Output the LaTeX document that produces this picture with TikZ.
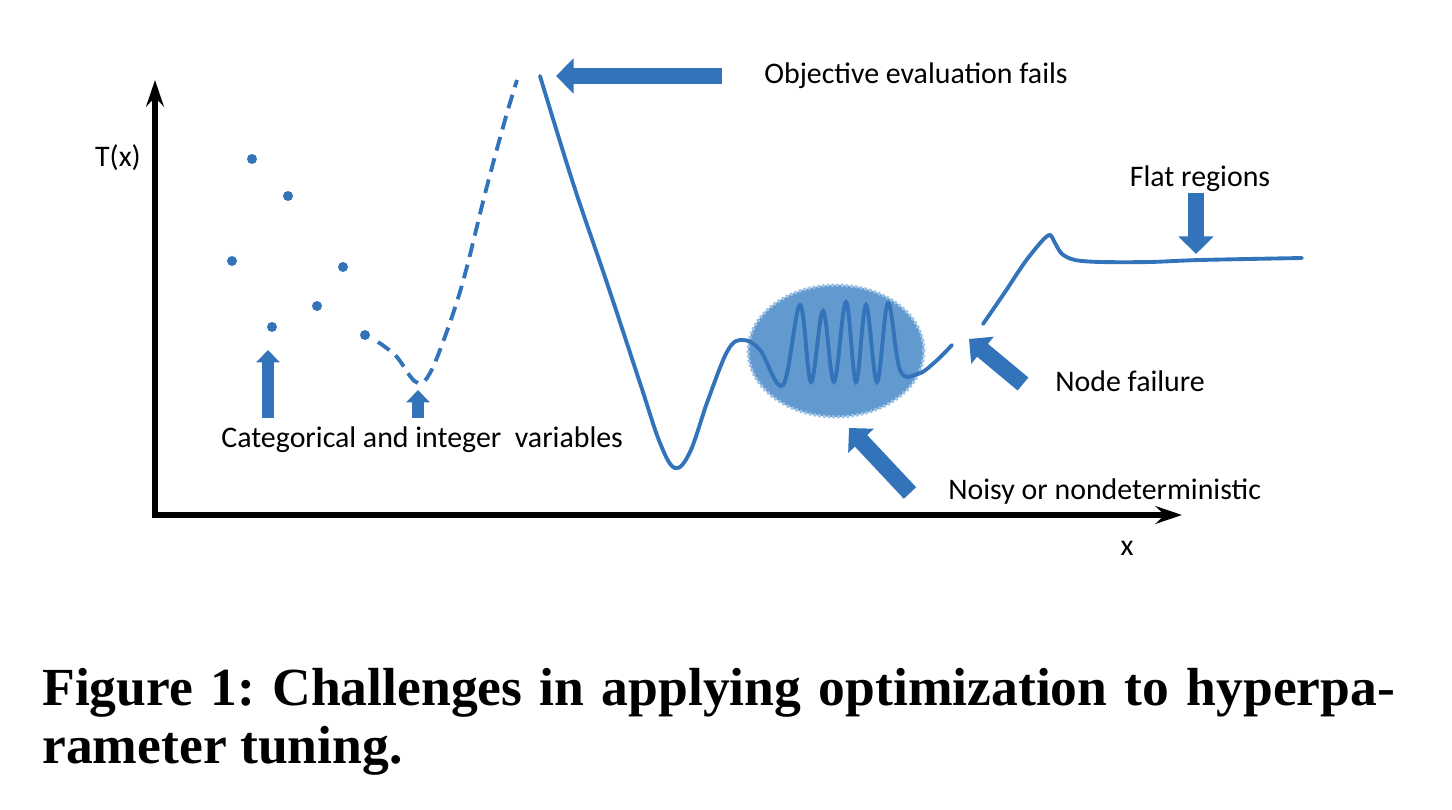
\documentclass[tikz,border=0pt]{standalone}
\usepackage{fontspec}
\setmainfont{Carlito}
\newfontfamily\capfont{Liberation Serif}
\usepackage{tikz}
\usetikzlibrary{arrows.meta,shapes.geometric,positioning}
\definecolor{curveblue}{HTML}{3373BA}
\definecolor{blobblue}{HTML}{6299CE}
\definecolor{rimblue}{HTML}{9DC3E6}
\frenchspacing

\begin{document}
\begin{tikzpicture}[
    x=0.02cm, y=-0.02cm,
    axisline/.style={line width=3pt, -{Stealth[length=15pt, width=10pt, inset=5pt]}},
    curve/.style={draw=curveblue, line width=2.2pt, line cap=round},
    gapcurve/.style={curve, dash pattern=on 8pt off 4.5pt, line cap=butt},
    sample/.style={circle, fill=curveblue, inner sep=0pt, minimum size=5.7pt},
    bigarrow/.style={draw=curveblue, line width=9.6pt, -{Triangle[length=10pt, width=19.5pt]}},
    smallarrow/.style={draw=curveblue, line width=6.5pt, -{Triangle[length=7pt, width=13pt]}},
    noiseblob/.style={ellipse, fill=blobblue, draw=rimblue, line width=1.8pt, dash pattern=on 1.5pt off 1.2pt, minimum width=100pt, minimum height=75pt, inner sep=0pt},
    lbl/.style={font=\fontsize{17}{20}\selectfont, inner sep=0pt},
    caption/.style={font=\capfont\bfseries\fontsize{30.5}{36}\selectfont, inner sep=0pt, anchor=base west}
]
  \useasboundingbox (0,0) rectangle (1452,810);

  % axes
  \coordinate (origin) at (155,515);
  \coordinate (ytip) at (155,80);
  \coordinate (xtip) at (1182,515);
  \draw[axisline] (origin) -- (ytip);
  \draw[axisline] ([xshift=-1.5pt]origin) -- (xtip);
  \node[lbl] (ylbl) at (118,158) {T(x)};
  \node[lbl] (xlbl) at (1127,548) {x};

  % categorical samples
  \foreach \px/\py [count=\i] in {252/159, 288/196, 232/261, 343/267, 317/306, 272/327, 365/335}
    \node[sample] (s\i) at (\px,\py) {};

  % noisy region
  \node[noiseblob] (noise) at (836,351) {};

  % objective
  \draw[gapcurve] plot[smooth, tension=0.6] coordinates {(378,342) (396,356) (410,376) (418,383) (427,378) (440,350) (462,285) (486,190) (505,120) (517,80)};
  \draw[curve] plot[smooth, tension=0.6] coordinates {(540,76) (573,183) (607,283) (640,383) (660,443) (675,468) (690,452) (708,400) (728,350) (743,340) (760,350) (783,385) (800,305) (811,382) (823,311) (834,382) (846,302) (856,382) (866,305) (877,382) (888,303) (900,370) (918,374) (935,362) (952,345)};
  \draw[curve] plot[smooth, tension=0.5] coordinates {(983,324) (1005,292) (1025,262) (1042,241) (1050,235) (1055,243) (1062,254) (1075,260) (1100,262) (1150,262) (1200,260) (1302,258)};

  % pointers
  \coordinate (objtail) at (722,76);
  \coordinate (objtip) at (556,76);
  \coordinate (cattail) at (268,418);
  \coordinate (cattip) at (268,350);
  \coordinate (inttail) at (418,418);
  \coordinate (inttip) at (418,390);
  \coordinate (flattail) at (1196,193);
  \coordinate (flattip) at (1196,254);
  \coordinate (noisytail) at (910,493);
  \coordinate (noisytip) at (849,428);
  \coordinate (failtail) at (1023,384);
  \coordinate (failtip) at (969,339);

  \draw[bigarrow] (objtail) -- (objtip);
  \draw[smallarrow] (cattail) -- (cattip);
  \draw[smallarrow] (inttail) -- (inttip);
  \draw[bigarrow] (flattail) -- (flattip);
  \draw[bigarrow] (noisytail) -- (noisytip);
  \draw[bigarrow] (failtail) -- (failtip);

  \node[lbl, anchor=west] (objlbl) at (764,76) {Objective evaluation fails};
  \node[lbl] (flatlbl) at (1200,179) {Flat regions};
  \node[lbl, anchor=west] (faillbl) at (1055,381) {Node failure};
  \node[lbl, anchor=west] (noisylbl) at (948,492) {Noisy or nondeterministic};
  \node[lbl, anchor=west] (catlbl) at (221,440) {Categorical and integer\ \ variables};

  % caption
  \node[caption] (cap1) at (42,705) {\makebox[770pt][s]{Figure 1: Challenges in applying optimization to hyperpa-}};
  \node[caption] (cap2) at (42,763) {rameter tuning.};
\end{tikzpicture}
\end{document}
